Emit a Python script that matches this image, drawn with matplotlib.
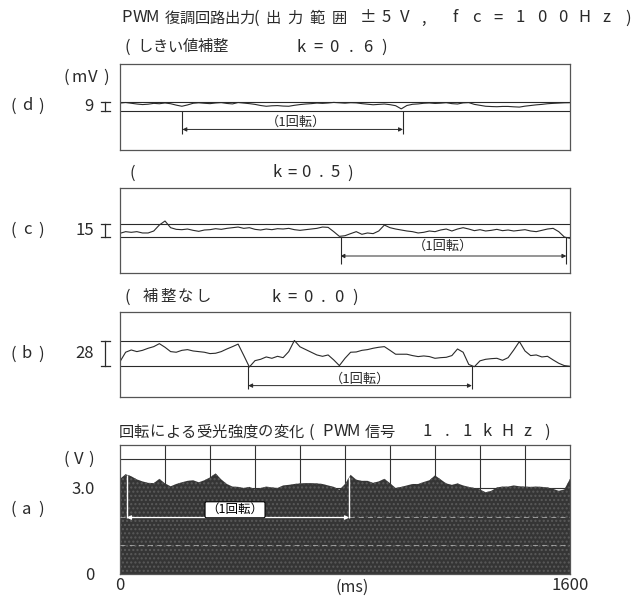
import matplotlib.pyplot as plt
import numpy as np
from matplotlib import transforms

plt.rcParams['font.family'] = ['Noto Sans CJK JP', 'DejaVu Sans']

# sampling instants of the recorder traces (ms)
t_ms = np.arange(0, 1601, 20)

# (d) threshold correction k=0.6, demodulator output (mV)
trace_d = [8.2, 8.8, 8.0, 7.2, 6.6, 7.0, 7.9, 7.5, 8.3, 7.5,
           6.0, 4.8, 6.2, 8.0, 8.5, 8.0, 7.6, 8.3, 8.7, 7.8,
           7.3, 8.8, 8.2, 7.6, 6.8, 5.6, 4.8, 5.3, 5.5, 5.0,
           4.8, 5.8, 6.6, 7.2, 7.6, 8.2, 7.9, 8.3, 8.9, 8.5,
           8.1, 8.6, 8.4, 7.6, 7.0, 6.4, 6.8, 7.2, 6.5, 5.4,
           2.0, 5.6, 6.9, 7.3, 8.0, 8.3, 7.8, 8.1, 8.6, 7.6,
           7.2, 8.4, 8.7, 6.8, 5.8, 4.8, 4.5, 4.3, 4.6, 4.6,
           4.2, 3.9, 4.9, 5.6, 6.3, 6.8, 7.5, 7.9, 8.2, 8.5,
           8.6]
# (c) k=0.5 (mV)
trace_c = [4.1, 6.1, 5.3, 6.1, 4.5, 4.5, 6.9, 14.2, 19.0, 10.9,
           8.9, 8.5, 9.3, 7.7, 6.5, 8.1, 8.5, 9.7, 8.9, 10.1,
           10.9, 11.7, 10.1, 10.9, 8.9, 8.1, 9.3, 8.5, 9.7, 9.3,
           10.1, 8.5, 7.7, 8.5, 9.3, 10.1, 11.7, 11.3, 6.1, 0.4,
           1.2, 3.7, 6.1, 2.9, 4.5, 3.7, 6.9, 14.1, 10.9, 9.3,
           8.1, 6.9, 6.1, 4.5, 5.3, 6.9, 6.1, 8.1, 9.3, 6.9,
           9.3, 10.9, 9.3, 7.3, 8.5, 6.9, 7.7, 8.9, 7.3, 8.1,
           6.9, 7.7, 8.5, 6.9, 6.1, 7.7, 9.3, 10.1, 6.1, -0.4,
           -2.0]
# (b) no correction k=0.0 (mV)
trace_b = [5.1, 15.5, 18.0, 16.2, 17.6, 19.9, 21.7, 25.0, 21.0, 16.2,
           15.5, 17.6, 18.4, 16.9, 16.2, 15.5, 14.0, 14.4, 16.2, 19.1,
           21.7, 24.5, 12.0, -0.8, 6.2, 7.7, 10.3, 8.8, 11.0, 9.5,
           16.2, 28.5, 21.5, 18.5, 15.5, 12.5, 11.0, 12.5, 7.0, 0.7,
           8.8, 15.5, 15.8, 17.6, 18.4, 19.9, 21.0, 21.7, 17.6, 13.3,
           13.3, 13.3, 11.8, 10.7, 11.4, 10.7, 8.8, 9.5, 9.9, 11.8,
           19.1, 15.5, 2.0, -0.5, 6.0, 7.7, 8.4, 8.8, 6.6, 9.5,
           18.0, 27.3, 16.9, 11.8, 12.5, 10.3, 11.0, 7.0, 3.3, 0.7,
           0.0]
# (a) envelope of received light intensity (V)
env_a = [3.32, 3.48, 3.41, 3.30, 3.23, 3.18, 3.17, 3.32, 3.16, 3.06,
         3.14, 3.20, 3.25, 3.27, 3.20, 3.27, 3.37, 3.51, 3.30, 3.14,
         3.05, 3.04, 3.00, 3.04, 2.95, 3.00, 3.05, 3.02, 3.00, 3.09,
         3.11, 3.14, 3.16, 3.17, 3.17, 3.16, 3.14, 3.09, 3.04, 2.94,
         3.14, 3.46, 3.29, 3.25, 3.25, 3.18, 3.23, 3.32, 3.17, 3.00,
         3.04, 3.09, 3.14, 3.14, 3.21, 3.27, 3.44, 3.30, 3.16, 3.11,
         3.16, 3.09, 3.04, 3.00, 2.95, 2.85, 2.90, 3.02, 3.05, 3.05,
         3.09, 3.06, 3.05, 3.04, 3.05, 3.04, 3.02, 2.97, 2.90, 2.95,
         3.32]

# scale bars (mV between the two reference lines)
scale_d, scale_c, scale_b = 9, 15, 28
# one revolution markers (ms)
rev_d = [222, 1006]
rev_c = [784, 1587]
rev_b = [456, 1251]
rev_a = [24, 815]

W, H = 638, 598
INK = '#2a2a2a'
fig = plt.figure(figsize=(W / 100, H / 100), dpi=100)


def spaced(s, x, y, pitch, size=12):
    # typewriter style: one glyph per cell, positions in pixels from top-left
    for i, ch in enumerate(s):
        fig.text((x + i * pitch) / W, 1 - y / H, ch, ha='center', va='center',
                 fontsize=size, color=INK)


def panel(y_top, y_bot):
    ax = fig.add_axes([120 / W, 1 - y_bot / H, 450 / W, (y_bot - y_top) / H])
    ax.set_xlim(0, 1600)
    ax.set_xticks([])
    ax.set_yticks([])
    for sp in ax.spines.values():
        sp.set_color('#555555')
        sp.set_linewidth(0.9)
    return ax


def trace_panel(ax, y, scale, ylim, rev, tick_y, arrow_y, label_xy):
    ax.set_ylim(*ylim)
    ax.plot(t_ms, y, color=INK, lw=0.8)
    ax.axhline(0, color=INK, lw=0.8)
    ax.axhline(scale, color=INK, lw=0.8)
    ax.vlines(rev, tick_y, 0, color=INK, lw=0.8)
    ax.annotate('', xy=(rev[1], arrow_y), xytext=(rev[0], arrow_y),
                arrowprops=dict(arrowstyle='<|-|>', color=INK, lw=0.7,
                                mutation_scale=6, shrinkA=0, shrinkB=0))
    ax.text(*label_xy, '（1回転）', ha='center', va='center', fontsize=9.5, color=INK)
    # I-shaped scale bar left of the box
    tr = transforms.blended_transform_factory(ax.transAxes, ax.transData)
    ax.plot([-0.033, -0.033], [0, scale], transform=tr, clip_on=False, color=INK, lw=0.9)
    for v in (0, scale):
        ax.plot([-0.043, -0.023], [v, v], transform=tr, clip_on=False, color=INK, lw=0.9)
    ax.text(-0.058, scale / 2, str(scale), transform=tr, ha='right', va='center',
            fontsize=12, color=INK)


ax_d = panel(64, 150)
trace_panel(ax_d, trace_d, scale_d, (-42, 50), rev_d, -25, -20, (626, -12))
ax_c = panel(188, 273)
trace_panel(ax_c, trace_c, scale_c, (-44, 59), rev_c, -33, -23.4, (1150, -11.3))
ax_b = panel(312, 397)
trace_panel(ax_b, trace_b, scale_b, (-34, 60), rev_b, -25, -21.4, (853, -14.5))

# (a) received light intensity, oscilloscope style
ax_a = panel(445, 574)
ax_a.set_ylim(0, 4.5)
for x in np.arange(160, 1600, 160):
    ax_a.axvline(x, color='#333333', lw=0.8, zorder=1)
for v in (3.0, 4.0):
    ax_a.axhline(v, color='#333333', lw=0.8, zorder=1)
ax_a.fill_between(t_ms, 0, env_a, facecolor='#353535', edgecolor='#5a5a5a',
                  hatch='....', lw=0, zorder=2)
for v in (1.0, 2.0):
    ax_a.axhline(v, color='white', lw=0.6, ls=(0, (6, 5)), alpha=0.55, zorder=3)
tops = np.interp(rev_a, t_ms, env_a)
ax_a.vlines(rev_a, 1.97, tops, color='white', lw=1.0, zorder=4)
ax_a.annotate('', xy=(rev_a[1], 1.97), xytext=(rev_a[0], 1.97),
              arrowprops=dict(arrowstyle='<|-|>', color='white', lw=0.9,
                              mutation_scale=6, shrinkA=0, shrinkB=0), zorder=4)
ax_a.text(409, 2.24, '（1回転）', ha='center', va='center', fontsize=9, color='black',
          bbox=dict(boxstyle='round,pad=0.12', fc='white', ec='black', lw=0.8), zorder=5)
ax_a.set_yticks([0, 3.0], ['0', '3.0'])
ax_a.set_xticks([0, 1600], ['0', '1600'])
ax_a.tick_params(axis='y', length=0, labelsize=12, labelcolor=INK, pad=18)
ax_a.tick_params(axis='x', length=0, labelsize=12, labelcolor=INK, pad=2)
ax_a.text(825, -0.105, '(ms)', transform=transforms.blended_transform_factory(
    ax_a.transData, ax_a.transAxes), ha='center', va='center', fontsize=11.5, color=INK)

# titles
spaced('PWM', 127, 18, 12.5)
spaced('復調回路出力', 172, 18, 15, size=11)
spaced('(', 256, 18, 0)
spaced('出力範囲', 273, 18, 22, size=11)
spaced('±5V,', 368, 18, 18.5)
spaced('fc=100Hz)', 455, 18, 21.6)

spaced('(', 127, 47, 0)
spaced('しきい値補整', 145, 47, 15, size=11)
spaced('k=0.6)', 301, 47, 16.6)

spaced('(', 132, 173, 0)
spaced('k=0.5)', 277, 173, 14.6)

spaced('(', 127, 297, 0)
spaced('補整なし', 150, 297, 17.8, size=11)
spaced('k=0.0)', 276, 297, 15.8)

spaced('回転による受光強度の変化', 126, 432, 15.5, size=11)
spaced('(', 311, 432, 0)
spaced('PWM', 328, 432, 12.5)
spaced('信号', 372, 432, 15, size=11)
spaced('1.1kHz)', 427, 432, 20)

# panel tags and units
spaced('(d)', 13, 106, 14)
spaced('(c)', 13, 230, 14)
spaced('(b)', 13, 354, 14)
spaced('(a)', 13, 509, 14)
spaced('(mV)', 66, 77, 13.5)
spaced('(V)', 66, 459, 12.5)

fig.savefig('out.png', dpi=100, facecolor='white')
